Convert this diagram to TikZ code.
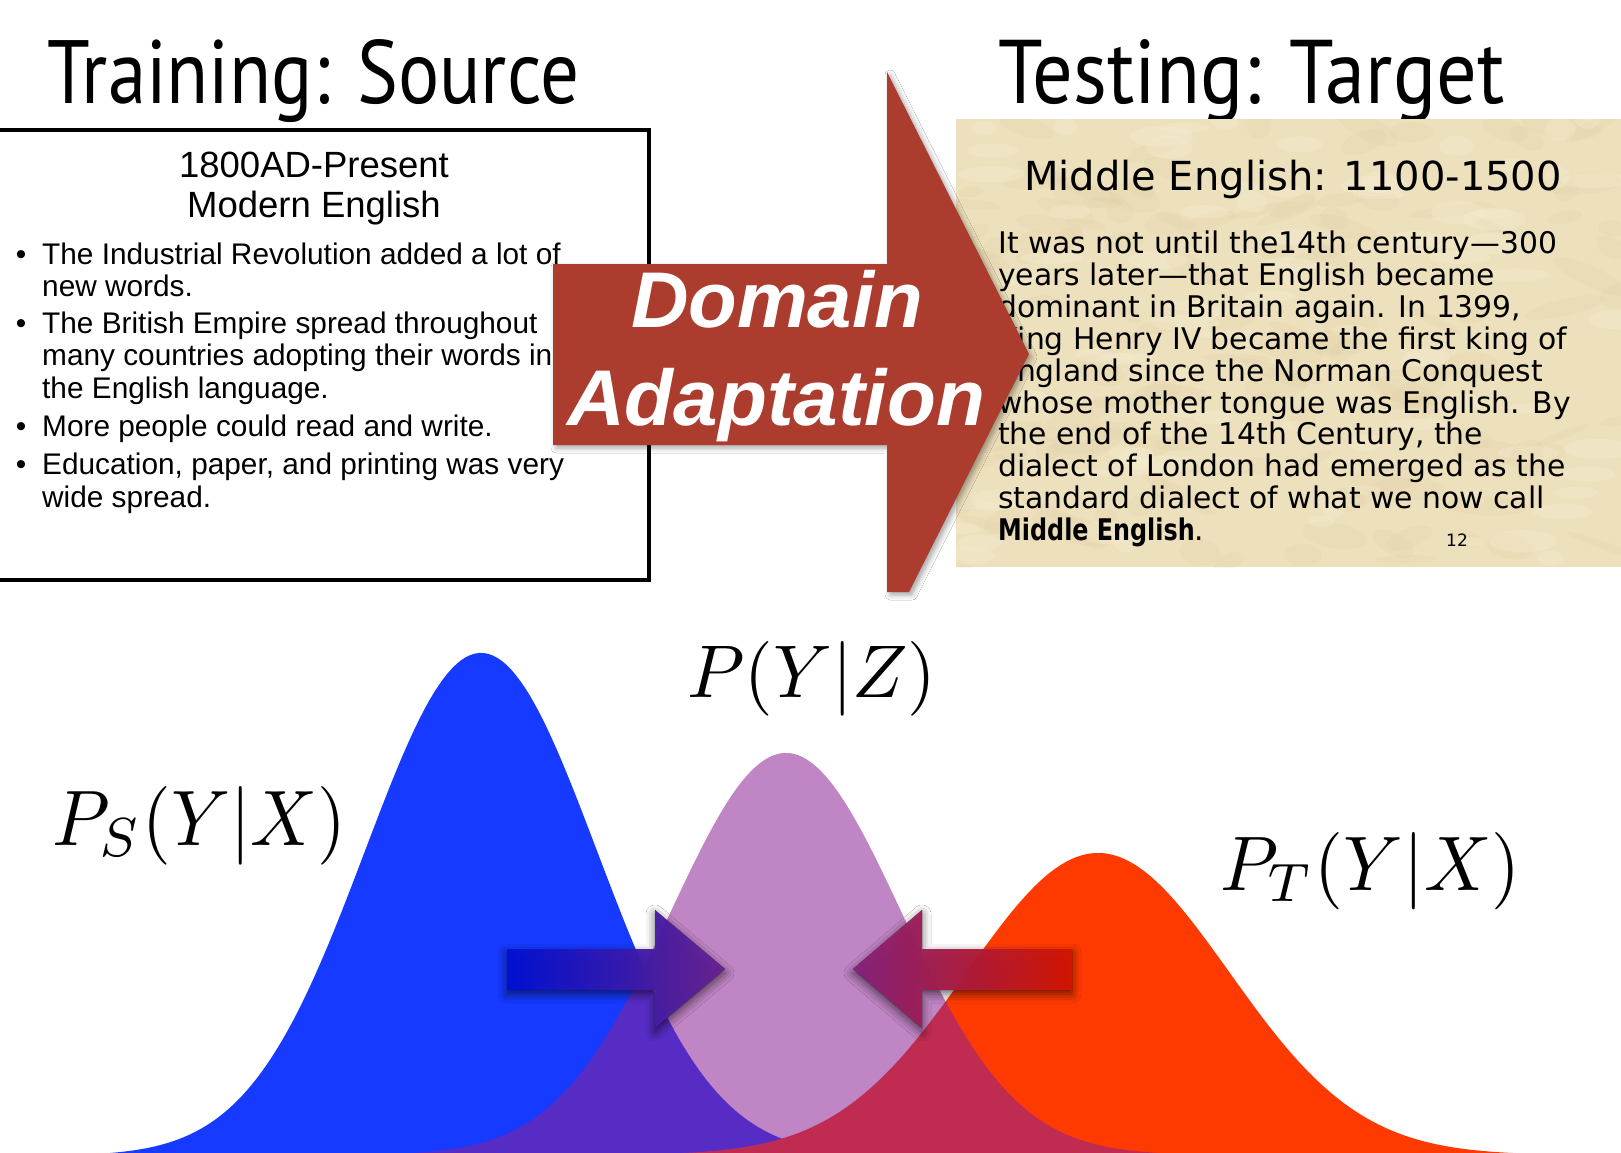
\documentclass[tikz,border=0pt]{standalone}
\usepackage{fontspec}
\usepackage{graphicx}
\newfontfamily\arialfont{Liberation Sans}
\newfontfamily\dejavufont{DejaVu Sans}
\newfontfamily\handfont{PT Sans}
\usetikzlibrary{shadows.blur}
\definecolor{arrowred}{RGB}{172,60,46}
\definecolor{parch}{RGB}{237,224,188}
\definecolor{parchdark}{RGB}{214,193,148}
\definecolor{parchlight}{RGB}{246,238,212}
\definecolor{gblue}{RGB}{22,58,255}
\definecolor{gred}{RGB}{255,58,0}
\definecolor{gpurp}{RGB}{141,33,149}
\definecolor{abluestart}{RGB}{0,20,255}
\definecolor{ablueend}{RGB}{125,40,170}
\definecolor{aredstart}{RGB}{255,25,0}
\definecolor{aredend}{RGB}{160,40,150}
\tikzset{
  handtitle/.style={anchor=base west, inner sep=0, font=\handfont},
  srcline/.style={anchor=base west, inner sep=0, font=\arialfont\fontsize{29.8}{33}\selectfont},
  srcbul/.style={anchor=base, inner sep=0, font=\arialfont\fontsize{29.8}{33}\selectfont},
  srchead/.style={anchor=base, inner sep=0, font=\arialfont\fontsize{36.5}{40}\selectfont},
  tgtline/.style={anchor=base west, inner sep=0, font=\dejavufont\fontsize{29.8}{32}\selectfont},
  arrowtext/.style={anchor=base, inner sep=0, text=white, font=\arialfont\bfseries\itshape\fontsize{79}{79}\selectfont},
  mathlabel/.style={anchor=base west, inner sep=0},
  smallarrow/.style={fill opacity=0.8, blur shadow={shadow xshift=0pt, shadow yshift=-4pt, shadow blur radius=9pt, shadow opacity=60}},
}
\begin{document}
\begin{tikzpicture}[x=1pt,y=-1pt,
  declare function={gauss(\t,\c,\s)=exp(-0.5*((\t-\c)/\s)*((\t-\c)/\s));}]
\useasboundingbox (0,0) rectangle (1621,1152);
\clip (0,0) rectangle (1621,1152);
\fill[white] (0,0) rectangle (1621,1152);

% ---------- titles ----------
\node[handtitle] (trainT) at (47,103) {\resizebox{532pt}{64pt}{\fontsize{80}{80}\selectfont Training: Source}};
\node[handtitle] (testT) at (998,103) {\resizebox{506pt}{64pt}{\fontsize{80}{80}\selectfont Testing: Target}};

% ---------- source box ----------
\node[draw, line width=4pt, minimum width=700pt, minimum height=450pt, anchor=north east, inner sep=0] (srcbox) at (651,128) {};
\node[srchead] (sh1) at (314,177) {1800AD-Present};
\node[srchead] (sh2) at (314,217) {Modern English};
\node[srcbul] (b1) at (21,264) {\textbullet};
\node[srcline] (s1) at (42,264) {The Industrial Revolution added a lot of};
\node[srcline] (s2) at (42,296) {new words.};
\node[srcbul] (b2) at (21,333) {\textbullet};
\node[srcline] (s3) at (42,333) {The British Empire spread throughout};
\node[srcline] (s4) at (42,365) {many countries adopting their words in};
\node[srcline] (s5) at (42,398) {the English language.};
\node[srcbul] (b3) at (21,436) {\textbullet};
\node[srcline] (s6) at (42,436) {More people could read and write.};
\node[srcbul] (b4) at (21,474) {\textbullet};
\node[srcline] (s7) at (42,474) {Education, paper, and printing was very};
\node[srcline] (s8) at (42,507) {wide spread.};

% ---------- target box (parchment) ----------
\node[fill=parch, minimum width=700pt, minimum height=448pt, anchor=north west, inner sep=0] (tgtbox) at (956,119) {};
\begin{scope}
  \clip (956,119) rectangle (1621,567);
  \pgfmathsetseed{11}
  \foreach \k in {1,...,140}{
    \pgfmathsetmacro{\px}{956+665*rnd}
    \pgfmathsetmacro{\py}{119+448*rnd}
    \pgfmathsetmacro{\rx}{12+30*rnd}
    \pgfmathsetmacro{\ry}{4+10*rnd}
    \pgfmathsetmacro{\rot}{-30+60*rnd}
    \fill[parchdark, opacity=0.11, rotate around={\rot:(\px,\py)}] (\px,\py) ellipse[x radius=\rx, y radius=\ry];
  }
  \foreach \k in {1,...,90}{
    \pgfmathsetmacro{\px}{956+665*rnd}
    \pgfmathsetmacro{\py}{119+448*rnd}
    \pgfmathsetmacro{\rx}{10+25*rnd}
    \pgfmathsetmacro{\ry}{4+8*rnd}
    \fill[parchlight, opacity=0.3] (\px,\py) ellipse[x radius=\rx, y radius=\ry];
  }
\end{scope}
\node[anchor=base, inner sep=0, font=\dejavufont\fontsize{40}{44}\selectfont] (th) at (1293,190) {Middle English: 1100-1500};
\node[tgtline] (t1) at (998,253) {It was not until the14th century—300};
\node[tgtline] (t2) at (998,285) {years later—that English became};
\node[tgtline] (t3) at (998,317) {dominant in Britain again. In 1399,};
\node[tgtline] (t4) at (998,349) {King Henry IV became the first king of};
\node[tgtline] (t5) at (998,381) {England since the Norman Conquest};
\node[tgtline] (t6) at (998,413) {whose mother tongue was English. By};
\node[tgtline] (t7) at (998,444) {the end of the 14th Century, the};
\node[tgtline] (t8) at (998,476) {dialect of London had emerged as the};
\node[tgtline] (t9) at (998,508) {standard dialect of what we now call};
\node[tgtline] (t10) at (998,540) {\scalebox{0.8}[1]{\bfseries Middle English}.};
\node[anchor=base, inner sep=0, font=\dejavufont\fontsize{17}{17}\selectfont] (pg) at (1457,546) {12};

% ---------- big arrow ----------
\fill[arrowred, blur shadow={shadow xshift=3pt, shadow yshift=-3pt, shadow blur radius=5pt, shadow opacity=35}]
  (553,264) -- (887,264) -- (887,72) -- (1029,354) -- (909,592) -- (887,592) -- (887,445) -- (553,445) -- cycle;
\node[arrowtext] (dom) at (777,327) {\resizebox{292pt}{\height}{Domain}};
\node[arrowtext] (ada) at (776,425) {\resizebox{418pt}{\height}{Adaptation}};

% ---------- gaussians ----------
\fill[gblue] (0,1160) -- plot[domain=0:1000, samples=220] (\x,{1156-503*gauss(\x,481,116)}) -- (1621,1160) -- cycle;
\fill[gred] (515,1160) -- plot[domain=515:1621, samples=220] (\x,{1155-302*gauss(\x,1098,131)}) -- (1621,1160) -- cycle;
\fill[gpurp, fill opacity=0.55] (268,1160) -- plot[domain=268:1304, samples=220] (\x,{1155-402*gauss(\x,786,115)}) -- (1304,1160) -- cycle;

% ---------- small arrows ----------
\fill[smallarrow, left color=abluestart, right color=ablueend]
  (507,949) -- (655,949) -- (655,910) -- (725,969) -- (655,1028) -- (655,990) -- (507,990) -- cycle;
\fill[smallarrow, left color=aredend, right color=aredstart]
  (1072,949) -- (922,949) -- (922,910) -- (853,969) -- (922,1028) -- (922,990) -- (1072,990) -- cycle;

% ---------- labels ----------
\node[mathlabel] (pyz) at (687,697) {\resizebox{249pt}{56pt}{$P(Y|Z)$}};
\node[mathlabel] (ps) at (52,845) {\resizebox{294pt}{59pt}{$P_S(Y|X)$}};
\node[mathlabel] (pt) at (1220,890) {\resizebox{300pt}{58pt}{$P_T(Y|X)$}};
\end{tikzpicture}
\end{document}
